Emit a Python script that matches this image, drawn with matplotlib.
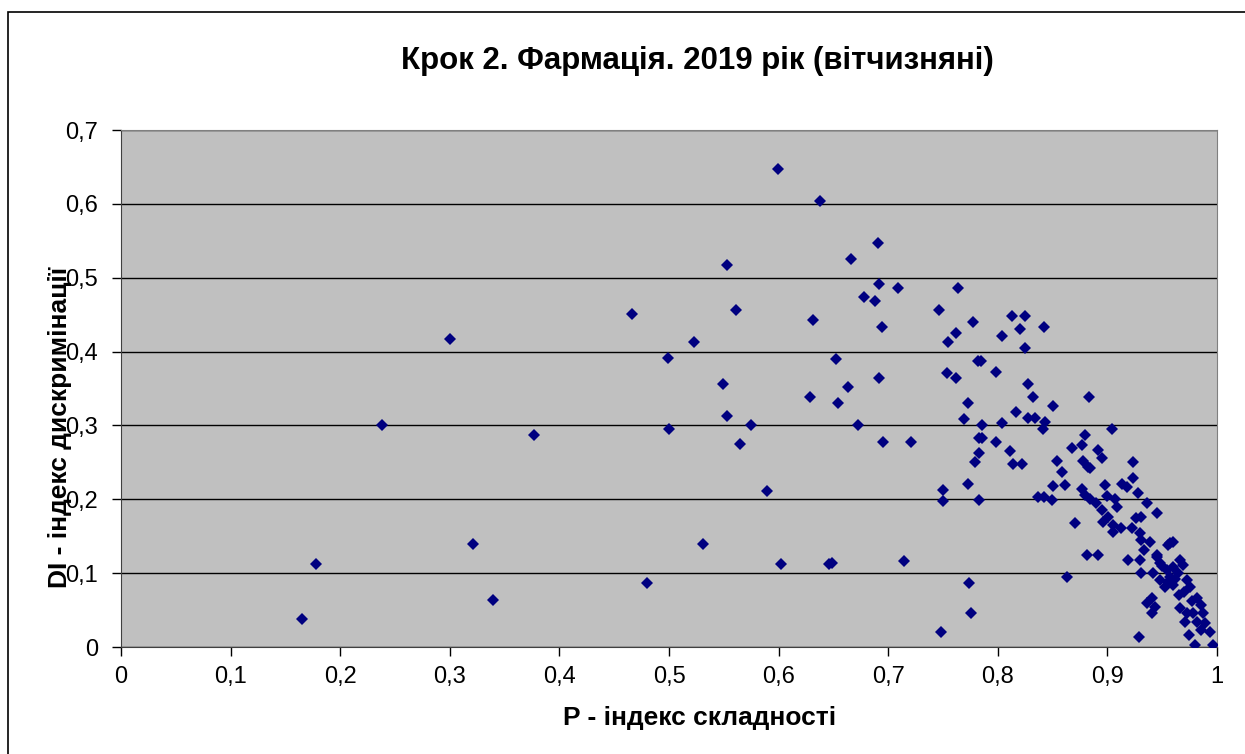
import numpy as np
from matplotlib import pyplot as plt
from matplotlib.patches import Rectangle

# P - difficulty index, DI - discrimination index
p_index = [
    0.165, 0.178, 0.238, 0.300, 0.321, 0.339, 0.377, 0.466, 0.480, 0.499,
    0.500, 0.523, 0.531, 0.549, 0.553, 0.553, 0.561, 0.565, 0.575, 0.589,
    0.599, 0.602, 0.638, 0.629, 0.631, 0.666, 0.646, 0.652, 0.654, 0.663,
    0.691, 0.692, 0.709, 0.678, 0.688, 0.746, 0.764, 0.694, 0.762, 0.755,
    0.754, 0.762, 0.692, 0.672, 0.695, 0.721, 0.777, 0.782, 0.773, 0.769,
    0.783, 0.779, 0.813, 0.825, 0.820, 0.842, 0.804, 0.825, 0.785, 0.798,
    0.828, 0.832, 0.883, 0.850, 0.817, 0.828, 0.834, 0.843, 0.786, 0.804,
    0.841, 0.904, 0.786, 0.798, 0.811, 0.783, 0.814, 0.822, 0.880, 0.868,
    0.877, 0.891, 0.895, 0.923, 0.854, 0.878, 0.882, 0.884, 0.859, 0.923,
    0.773, 0.750, 0.750, 0.783, 0.649, 0.714, 0.774, 0.776, 0.748, 0.837,
    0.842, 0.849, 0.850, 0.861, 0.870, 0.863, 0.881, 0.891, 0.877, 0.880,
    0.884, 0.890, 0.895, 0.898, 0.900, 0.907, 0.909, 0.896, 0.901, 0.905,
    0.912, 0.905, 0.913, 0.918, 0.928, 0.936, 0.945, 0.926, 0.931, 0.922,
    0.930, 0.931, 0.939, 0.955, 0.960, 0.919, 0.930, 0.933, 0.931, 0.945,
    0.948, 0.942, 0.948, 0.954, 0.957, 0.960, 0.964, 0.966, 0.969, 0.953,
    0.955, 0.960, 0.965, 0.973, 0.975, 0.982, 0.985, 0.936, 0.941, 0.943,
    0.941, 0.966, 0.973, 0.971, 0.978, 0.987, 0.982, 0.989, 0.994, 0.974,
    0.980, 0.996, 0.929, 0.985, 0.957, 0.945, 0.950, 0.962, 0.970, 0.977,
]
di_index = [
    0.038, 0.112, 0.300, 0.417, 0.139, 0.064, 0.287, 0.451, 0.087, 0.391,
    0.295, 0.413, 0.139, 0.356, 0.517, 0.313, 0.456, 0.275, 0.300, 0.211,
    0.647, 0.112, 0.604, 0.338, 0.443, 0.525, 0.112, 0.390, 0.330, 0.352,
    0.547, 0.491, 0.486, 0.474, 0.468, 0.456, 0.486, 0.433, 0.425, 0.413,
    0.371, 0.364, 0.364, 0.300, 0.278, 0.278, 0.440, 0.387, 0.330, 0.309,
    0.283, 0.250, 0.448, 0.448, 0.430, 0.433, 0.421, 0.405, 0.387, 0.373,
    0.356, 0.338, 0.338, 0.326, 0.318, 0.310, 0.310, 0.305, 0.300, 0.303,
    0.295, 0.295, 0.283, 0.278, 0.265, 0.263, 0.248, 0.248, 0.287, 0.269,
    0.273, 0.267, 0.256, 0.250, 0.252, 0.252, 0.244, 0.243, 0.237, 0.229,
    0.221, 0.213, 0.198, 0.199, 0.114, 0.116, 0.087, 0.046, 0.020, 0.203,
    0.203, 0.199, 0.218, 0.219, 0.168, 0.095, 0.125, 0.125, 0.214, 0.206,
    0.201, 0.195, 0.186, 0.219, 0.204, 0.201, 0.190, 0.169, 0.176, 0.165,
    0.161, 0.156, 0.221, 0.217, 0.208, 0.195, 0.181, 0.175, 0.176, 0.161,
    0.154, 0.145, 0.142, 0.138, 0.142, 0.118, 0.118, 0.131, 0.100, 0.122,
    0.114, 0.100, 0.091, 0.104, 0.095, 0.108, 0.100, 0.118, 0.111, 0.081,
    0.088, 0.084, 0.070, 0.091, 0.081, 0.066, 0.057, 0.060, 0.066, 0.054,
    0.046, 0.053, 0.046, 0.034, 0.046, 0.046, 0.034, 0.032, 0.020, 0.016,
    0.003, 0.003, 0.013, 0.023, 0.141, 0.125, 0.110, 0.092, 0.075, 0.062,
]

x_ticks = [0, 0.1, 0.2, 0.3, 0.4, 0.5, 0.6, 0.7, 0.8, 0.9, 1]
y_ticks = [0, 0.1, 0.2, 0.3, 0.4, 0.5, 0.6, 0.7]

plt.rcParams['font.family'] = ['Liberation Sans', 'DejaVu Sans']

fig = plt.figure(figsize=(12.45, 7.54), dpi=100)
fig.patches.append(Rectangle((8 / 1245, -0.1), 1.2, (754 - 12) / 754 + 0.1,
                             transform=fig.transFigure, fill=False,
                             edgecolor='black', linewidth=1.2))

ax = fig.add_axes([121 / 1245, 1 - 647 / 754, (1217 - 121) / 1245, (647 - 130) / 754])
ax.set_facecolor('#c0c0c0')
ax.plot(p_index, di_index, linestyle='none', marker='D', markersize=6.5,
        color='#000080', markeredgewidth=0, zorder=3)

ax.set_xlim(0, 1)
ax.set_ylim(0, 0.7)
ax.set_xticks(x_ticks)
ax.set_yticks(y_ticks)
ax.set_xticklabels([('%g' % t).replace('.', ',') for t in x_ticks], fontsize=17)
ax.set_yticklabels([('%g' % t).replace('.', ',') for t in y_ticks], fontsize=17)
ax.tick_params(axis='y', direction='out', length=6.5, width=1, color='black', pad=10)
ax.tick_params(axis='x', direction='out', length=6.5, width=1, color='black', pad=7)
ax.yaxis.grid(True, color='black', linewidth=1)
ax.set_axisbelow(True)
for s in ['top', 'right']:
    ax.spines[s].set_color('#808080')
for s in ['left', 'bottom']:
    ax.spines[s].set_color('#404040')

fig.text(700 / 1245, 1 - 718 / 754, 'P - індекс складності',
         ha='center', va='center', fontsize=19, fontweight='bold')
fig.text(60 / 1245, 1 - 427 / 754, 'DI - індекс дискримінації', rotation=90,
         ha='center', va='center', fontsize=19, fontweight='bold')
fig.text(697 / 1245, 1 - 61 / 754, 'Крок 2. Фармація. 2019 рік (вітчизняні)',
         ha='center', va='center', fontsize=22.5, fontweight='bold')

fig.savefig('out.png', dpi=100)
